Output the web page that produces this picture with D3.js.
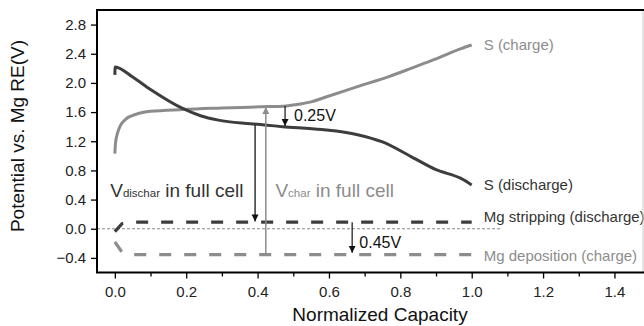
<!DOCTYPE html>
<html>
<head>
<meta charset="utf-8">
<script src="https://cdn.jsdelivr.net/npm/d3@7"></script>
<style>
  body { margin: 0; background: #fff; }
  svg text { font-family: Arial, "Liberation Sans", Helvetica, sans-serif; }
</style>
</head>
<body>
<svg id="chart" width="644" height="326"></svg>
<script>
/******************* Data ***********************************/
var chargeX = [0, 0.002, 0.008, 0.015, 0.03, 0.06, 0.1, 0.19, 0.3, 0.43, 0.48, 0.52, 0.55, 0.6, 0.68, 0.77, 0.83, 0.9, 0.97, 1.0];
var chargeY = [1.03, 1.18, 1.32, 1.41, 1.50, 1.57, 1.61, 1.635, 1.655, 1.675, 1.685, 1.71, 1.74, 1.82, 1.95, 2.09, 2.20, 2.33, 2.47, 2.52];

var dischargeX = [0, 0.001, 0.05, 0.1, 0.19, 0.24, 0.29, 0.38, 0.47, 0.58, 0.68, 0.75, 0.83, 0.9, 0.97, 1.0];
var dischargeY = [2.11, 2.22, 2.08, 1.91, 1.65, 1.55, 1.49, 1.44, 1.40, 1.36, 1.29, 1.19, 0.99, 0.81, 0.69, 0.60];

var strippingX = [0, 0.02, 0.05, 1.0];
var strippingY = [-0.04, 0.07, 0.09, 0.09];

var depositionX = [0, 0.02, 0.05, 1.0];
var depositionY = [-0.18, -0.32, -0.355, -0.355];

var seriesNames = ['S (charge)', 'S (discharge)', 'Mg stripping (discharge)', 'Mg deposition (charge)'];

var xTicks = [0.0, 0.2, 0.4, 0.6, 0.8, 1.0, 1.2, 1.4];
var yTicks = [-0.4, 0.0, 0.4, 0.8, 1.2, 1.6, 2.0, 2.4, 2.8];

// arrows: x, from, to (in data units)
var arrowX = [0.393, 0.423, 0.477, 0.665];
var arrowFrom = [1.44, -0.36, 1.685, 0.09];
var arrowTo = [0.10, 1.67, 1.41, -0.33];

/******************* Chart **********************************/
var dark = '#3d3d3d';
var grey = '#8c8c8c';

var svg = d3.select('#chart');
var mLeft = 97, mRight = 643, mTop = 10, mBottom = 272.5;

var x = d3.scaleLinear().domain([-0.05, 1.48]).range([mLeft, mRight]);
var y = d3.scaleLinear().domain([-0.6, 3.0]).range([mBottom, mTop]);

var defs = svg.append('defs');
function marker(id, color) {
  defs.append('marker')
    .attr('id', id)
    .attr('viewBox', '0 0 10 10')
    .attr('refX', 10)
    .attr('refY', 5)
    .attr('markerWidth', 7)
    .attr('markerHeight', 8)
    .attr('markerUnits', 'userSpaceOnUse')
    .attr('orient', 'auto')
    .append('path')
    .attr('d', 'M0,0 L10,5 L0,10 Z')
    .attr('fill', color);
}
marker('arrDark', '#111');
marker('arrGrey', grey);

// zero line
svg.append('line')
  .attr('x1', x(-0.05)).attr('x2', x(1.08))
  .attr('y1', y(0)).attr('y2', y(0))
  .attr('stroke', '#888')
  .attr('stroke-width', 1)
  .attr('stroke-dasharray', '3,2');

function zipXY(xs, ys) {
  return xs.map(function(v, i) { return [v, ys[i]]; });
}

var line = d3.line()
  .x(function(d) { return x(d[0]); })
  .y(function(d) { return y(d[1]); })
  .curve(d3.curveMonotoneX);

var straight = d3.line()
  .x(function(d) { return x(d[0]); })
  .y(function(d) { return y(d[1]); });

svg.append('path')
  .datum(zipXY(strippingX, strippingY))
  .attr('d', straight)
  .attr('fill', 'none')
  .attr('stroke', dark)
  .attr('stroke-width', 3.2)
  .attr('stroke-dasharray', '12,13');

svg.append('path')
  .datum(zipXY(depositionX, depositionY))
  .attr('d', straight)
  .attr('fill', 'none')
  .attr('stroke', grey)
  .attr('stroke-width', 3.2)
  .attr('stroke-dasharray', '12,13');

svg.append('path')
  .datum(zipXY(chargeX, chargeY))
  .attr('d', line)
  .attr('fill', 'none')
  .attr('stroke', grey)
  .attr('stroke-width', 3);

svg.append('path')
  .datum(zipXY(dischargeX, dischargeY))
  .attr('d', line)
  .attr('fill', 'none')
  .attr('stroke', dark)
  .attr('stroke-width', 3)
  .attr('stroke-linejoin', 'round');

// arrows
var arrowColor = ['#333', grey, '#111', '#111'];
var arrowMarker = ['arrDark', 'arrGrey', 'arrDark', 'arrDark'];
arrowX.forEach(function(ax, i) {
  svg.append('line')
    .attr('x1', x(ax)).attr('x2', x(ax))
    .attr('y1', y(arrowFrom[i])).attr('y2', y(arrowTo[i]))
    .attr('stroke', arrowColor[i])
    .attr('stroke-width', i < 2 ? 1.5 : 1.2)
    .attr('marker-end', 'url(#' + arrowMarker[i] + ')');
});

/******************* Labels *********************************/
var labelColor = [grey, '#333', '#333', grey];
var labelY = [chargeY[chargeY.length - 1], dischargeY[dischargeY.length - 1], 0.16, -0.37];
seriesNames.forEach(function(name, i) {
  svg.append('text')
    .attr('x', x(1.0) + 12)
    .attr('y', y(labelY[i]))
    .attr('dy', '0.35em')
    .attr('font-size', 15)
    .attr('fill', labelColor[i])
    .text(name);
});

svg.append('text')
  .attr('x', x(0.502)).attr('y', y(1.55)).attr('dy', '0.35em')
  .attr('font-size', 16).attr('fill', '#111')
  .text('0.25V');

svg.append('text')
  .attr('x', x(0.685)).attr('y', y(-0.19)).attr('dy', '0.35em')
  .attr('font-size', 16).attr('fill', '#111')
  .text('0.45V');

var vd = svg.append('text')
  .attr('x', x(-0.013)).attr('y', y(0.44))
  .attr('font-size', 19).attr('fill', '#333');
vd.append('tspan').text('V');
vd.append('tspan').attr('font-size', 11.5).text('dischar');
vd.append('tspan').text(' in full cell');

var vc = svg.append('text')
  .attr('x', x(0.45)).attr('y', y(0.44))
  .attr('font-size', 19).attr('fill', grey);
vc.append('tspan').text('V');
vc.append('tspan').attr('font-size', 11.5).text('char');
vc.append('tspan').text(' in full cell');

/******************* Axes ***********************************/
// frame: right side is faint in the original
svg.append('line')
  .attr('x1', mRight).attr('x2', mRight)
  .attr('y1', mTop).attr('y2', mBottom)
  .attr('stroke', '#ccc').attr('stroke-width', 1);

svg.append('path')
  .attr('d', 'M' + (mRight + 1) + ',' + mTop + 'H' + mLeft + 'V' + mBottom + 'H' + (mRight + 1))
  .attr('fill', 'none')
  .attr('stroke', '#000')
  .attr('stroke-width', 2);

var yAxis = svg.append('g')
  .attr('transform', 'translate(' + mLeft + ',0)')
  .call(d3.axisLeft(y).tickValues(yTicks).tickSize(6).tickPadding(5).tickFormat(d3.format('.1f')));

var xMinor = svg.append('g')
  .attr('transform', 'translate(0,' + mBottom + ')')
  .call(d3.axisBottom(x).tickValues(d3.range(0.1, 1.5, 0.2)).tickSize(4).tickFormat(''));

var xAxis = svg.append('g')
  .attr('transform', 'translate(0,' + mBottom + ')')
  .call(d3.axisBottom(x).tickValues(xTicks).tickSize(6).tickPadding(8).tickFormat(d3.format('.1f')));

[yAxis, xAxis, xMinor].forEach(function(g) {
  g.select('.domain').remove();
  g.selectAll('line').attr('stroke', '#000').attr('stroke-width', 1.3);
  g.selectAll('text')
    .attr('font-size', 15)
    .attr('fill', '#222')
    .attr('font-family', 'Arial, "Liberation Sans", sans-serif');
});

svg.append('text')
  .attr('x', 380).attr('y', 321)
  .attr('text-anchor', 'middle')
  .attr('font-size', 19)
  .attr('fill', '#111')
  .text('Normalized Capacity');

svg.append('text')
  .attr('transform', 'translate(24,' + 136 + ') rotate(-90)')
  .attr('text-anchor', 'middle')
  .attr('font-size', 19)
  .attr('fill', '#111')
  .text('Potential vs. Mg RE(V)');
</script>
</body>
</html>
